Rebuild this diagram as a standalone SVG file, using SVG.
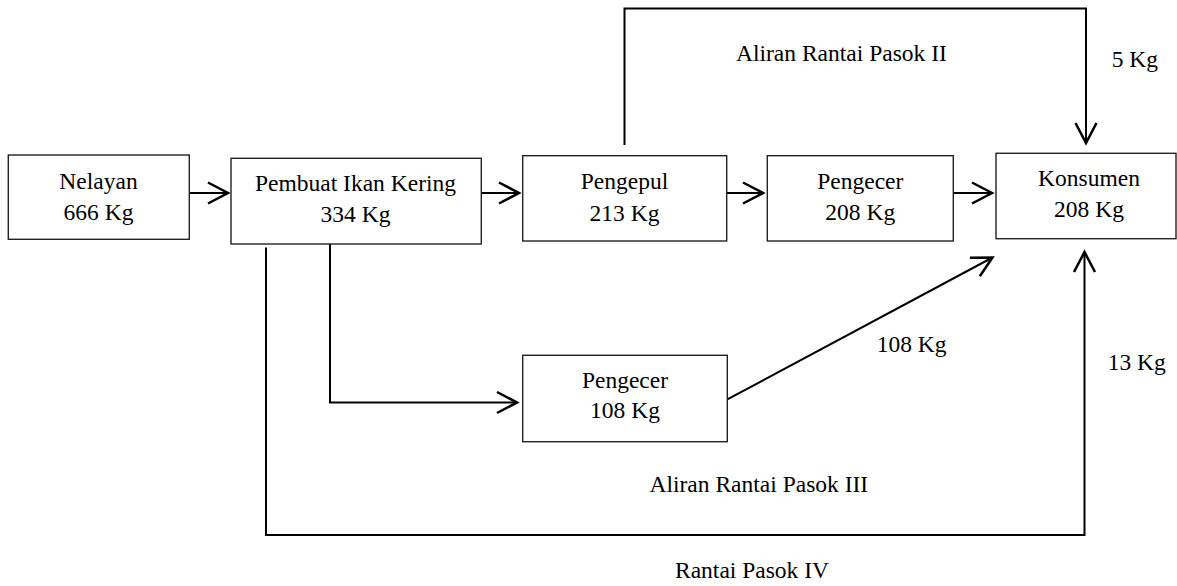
<svg xmlns="http://www.w3.org/2000/svg" width="1177" height="586" viewBox="0 0 1177 586">
<style>
  .box { fill: #fff; stroke: #222; stroke-width: 1.4; }
  .t { font-family: "Liberation Serif", "Times New Roman", serif; font-size: 23.5px; fill: #000; }
  .c { text-anchor: middle; }
  .con { fill: none; stroke: #000; stroke-width: 2; }
</style>
<defs>
  <marker id="arr" markerUnits="userSpaceOnUse" markerWidth="26" markerHeight="26" viewBox="-23 -13 26 26" refX="0" refY="0" orient="auto">
    <path d="M-20,-10.5 L0,0 L-20,10.5" fill="none" stroke="#000" stroke-width="2.5"/>
  </marker>
</defs>
<rect width="1177" height="586" fill="#fff"/>

<g id="connectors">
  <path class="con" d="M189,193 L228,193" marker-end="url(#arr)"/>
  <path class="con" d="M481,193 L519,193" marker-end="url(#arr)"/>
  <path class="con" d="M727,193 L763,193" marker-end="url(#arr)"/>
  <path class="con" d="M953,193 L992,193" marker-end="url(#arr)"/>
  <path class="con" d="M624.5,145 L624.5,8.5 L1086,8.5 L1086,143" marker-end="url(#arr)"/>
  <path class="con" d="M330,244 L330,402.5 L517,402.5" marker-end="url(#arr)"/>
  <path class="con" d="M725,400.7 L992.5,257.5" marker-end="url(#arr)"/>
  <path class="con" d="M266,247.5 L266,535 L1084.5,535 L1084.5,252" marker-end="url(#arr)"/>
</g>

<g id="nelayan">
  <rect class="box" x="8.3" y="155" width="181" height="84.3"/>
  <text class="t c" x="98.5" y="189.3">Nelayan</text>
  <text class="t c" x="98.5" y="220">666 Kg</text>
</g>
<g id="pembuat">
  <rect class="box" x="231" y="158.3" width="250.3" height="85.7"/>
  <text class="t c" x="355.5" y="190.7">Pembuat Ikan Kering</text>
  <text class="t c" x="355.5" y="221.7">334 Kg</text>
</g>
<g id="pengepul">
  <rect class="box" x="522.7" y="155.7" width="204" height="85.3"/>
  <text class="t c" x="624.5" y="188.5">Pengepul</text>
  <text class="t c" x="624.5" y="220.5">213 Kg</text>
</g>
<g id="pengecer1">
  <rect class="box" x="767.3" y="155.7" width="186" height="85.3"/>
  <text class="t c" x="860.3" y="189.3">Pengecer</text>
  <text class="t c" x="860.3" y="220">208 Kg</text>
</g>
<g id="konsumen">
  <rect class="box" x="996" y="153.3" width="180" height="85.4"/>
  <text class="t c" x="1089" y="186">Konsumen</text>
  <text class="t c" x="1089" y="216.5">208 Kg</text>
</g>
<g id="pengecer2">
  <rect class="box" x="522.7" y="355.3" width="204.6" height="86.4"/>
  <text class="t c" x="625" y="387.7">Pengecer</text>
  <text class="t c" x="625" y="418.3">108 Kg</text>
</g>

<g id="labels">
  <text class="t" x="736" y="60.5">Aliran Rantai Pasok II</text>
  <text class="t" x="1111.7" y="66.5">5 Kg</text>
  <text class="t" x="876.7" y="351.7">108 Kg</text>
  <text class="t" x="1107.7" y="370">13 Kg</text>
  <text class="t" x="649.5" y="491.7">Aliran Rantai Pasok III</text>
  <text class="t" x="675" y="578">Rantai Pasok IV</text>
</g>
</svg>
